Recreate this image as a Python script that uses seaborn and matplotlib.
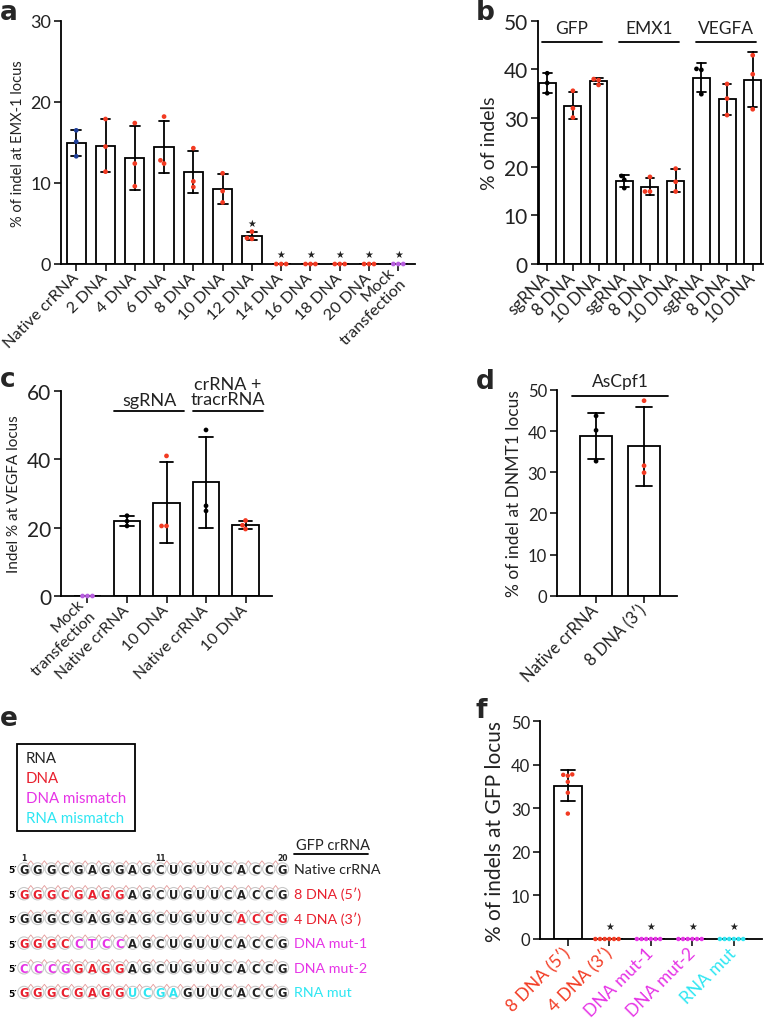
import numpy as np
import pandas as pd
import seaborn as sns
import matplotlib.pyplot as plt
from matplotlib.patches import Rectangle, Circle

sns.set_theme(style='ticks')
plt.rcParams['font.family'] = ['Lato', 'DejaVu Sans']

RED = '#f23a22'
BLUE = '#1f3f99'
PURPLE = '#b85ee0'
MAG = '#e634e6'
CYAN = '#2ee6f2'
SEQRED = '#e8202e'
TXT = '#222222'

# ---- data ----
# a: EMX-1, three replicates per condition
a_labels = ['Native crRNA', '2 DNA', '4 DNA', '6 DNA', '8 DNA', '10 DNA', '12 DNA',
            '14 DNA', '16 DNA', '18 DNA', '20 DNA', 'Mock\ntransfection']
a_values = [[16.5, 15.1, 13.3], [17.9, 14.5, 11.4], [17.4, 12.4, 9.6], [18.2, 12.8, 12.4],
            [14.3, 10.2, 9.5], [11.2, 9.0, 7.6], [4.0, 3.2, 3.1], [0, 0, 0], [0, 0, 0],
            [0, 0, 0], [0, 0, 0], [0, 0, 0]]
a_stars = ['12 DNA', '14 DNA', '16 DNA', '18 DNA', '20 DNA', 'Mock\ntransfection']
a_star_y = [5.1, 1.2, 1.2, 1.2, 1.2, 1.2]

# b: GFP / EMX1 / VEGFA
b_groups = ['GFP', 'EMX1', 'VEGFA']
b_labels = ['sgRNA', '8 DNA', '10 DNA']
b_values = [[39.2, 37.2, 35.1], [35.6, 32.0, 30.1], [38.0, 37.8, 36.8],
            [18.1, 17.3, 15.6], [17.9, 14.9, 14.9], [19.6, 16.9, 14.9],
            [40.1, 39.9, 34.9], [37.0, 34.0, 30.6], [42.9, 39.0, 31.8]]

# c: VEGFA
c_labels = ['Mock\ntransfection', 'Native crRNA', '10 DNA', 'Native crRNA ', '10 DNA ']
c_values = [[0, 0, 0], [23.5, 21.9, 20.5], [41.0, 20.5, 20.5],
            [48.6, 26.4, 24.9], [22.1, 20.7, 19.6]]
c_groups = ['sgRNA', 'crRNA +\ntracrRNA']

# d: DNMT1
d_labels = ['Native crRNA', '8 DNA (3′)']
d_values = [[43.7, 40.2, 32.7], [47.4, 31.6, 29.9]]

# f: GFP, six replicates
f_labels = ['8 DNA (5′)', '4 DNA (3′)', 'DNA mut-1', 'DNA mut-2', 'RNA mut']
f_values = [[37.7, 37.5, 37.8, 36.1, 33.6, 28.8], [0] * 6, [0] * 6, [0] * 6, [0] * 6]
f_star_y = [None, 2.9, 2.9, 2.9, 2.9]

# e: crRNA sequences (R=RNA, D=DNA, M=DNA mismatch, N=RNA mismatch)
e_names = ['Native crRNA', '8 DNA (5′)', '4 DNA (3′)', 'DNA mut-1', 'DNA mut-2', 'RNA mut']
e_seqs = ['GGGCGAGGAGCUGUUCACCG', 'GGGCGAGGAGCUGUUCACCG', 'GGGCGAGGAGCUGUUCACCG',
          'GGGCCTCCAGCUGUUCACCG', 'CCCGGAGGAGCUGUUCACCG', 'GGGCGAGGUCGAGUUCACCG']
e_types = ['RRRRRRRRRRRRRRRRRRRR', 'DDDDDDDDRRRRRRRRRRRR', 'RRRRRRRRRRRRRRRRDDDD',
           'DDDDMMMMRRRRRRRRRRRR', 'MMMMDDDDRRRRRRRRRRRR', 'DDDDDDDDNNNNRRRRRRRR']
e_legend = ['RNA', 'DNA', 'DNA mismatch', 'RNA mismatch']
type_col = {'R': TXT, 'D': SEQRED, 'M': MAG, 'N': CYAN}
name_col = [TXT, SEQRED, SEQRED, MAG, MAG, CYAN]


def long(labels, values):
    rows = [(l, v) for l, vs in zip(labels, values) for v in vs]
    return pd.DataFrame(rows, columns=['cond', 'val'])


def bars(ax, labels, values, colors, dot=3.4):
    df = long(labels, values)
    sns.barplot(data=df, x='cond', y='val', order=labels, color='white', saturation=1,
                edgecolor='black', linewidth=1.3, width=0.66, errorbar='sd', capsize=0.34,
                err_kws={'color': 'black', 'linewidth': 1.3}, ax=ax)
    sns.swarmplot(data=df, x='cond', y='val', order=labels, hue='cond', hue_order=labels,
                  palette=dict(zip(labels, colors)), size=dot, legend=False, ax=ax,
                  clip_on=False, zorder=5, linewidth=0)


def rot(ax):
    plt.setp(ax.get_xticklabels(), rotation=45, ha='right', va='center',
             rotation_mode='anchor', ma='right')


def style(ax, ylim, yticks, ylabel, ysize, lsize, xsize):
    sns.despine(ax=ax)
    ax.set_ylim(ylim)
    ax.set_yticks(yticks)
    ax.set_xlabel('')
    ax.set_ylabel(ylabel, fontsize=lsize, color=TXT, labelpad=4)
    for s in ax.spines.values():
        s.set_linewidth(1.3)
        s.set_color('black')
    ax.tick_params(axis='y', labelsize=ysize, length=5, width=1.3, labelcolor=TXT, pad=2)
    ax.tick_params(axis='x', labelsize=xsize, length=5, width=1.3, labelcolor=TXT, pad=3)
    rot(ax)


fig = plt.figure(figsize=(7.67, 10.2), dpi=100)
W, H = 767, 1020


def px_axes(x0, y0, x1, y1):
    return fig.add_axes([x0 / W, 1 - y1 / H, (x1 - x0) / W, (y1 - y0) / H])


# ---- panel a ----
ax = px_axes(61, 22, 415, 265)
bars(ax, a_labels, a_values, [BLUE] + [RED] * 10 + [PURPLE])
style(ax, (0, 30), [0, 10, 20, 30], '% of indel at EMX-1 locus', 13, 10.5, 11.8)
ax.set_xlim(-0.52, 11.57)
for lab, yy in zip(a_stars, a_star_y):
    ax.text(a_labels.index(lab), yy, '★', ha='center', va='center', fontsize=7,
            color=TXT, family='DejaVu Sans')

# ---- panel b ----
ax = px_axes(537.7, 21.7, 763, 265)
b_cats = [f'{g}|{l}' for g in b_groups for l in b_labels]
b_cols = ['black', RED, RED] * 3
bars(ax, b_cats, b_values, b_cols)
style(ax, (0, 50), [0, 10, 20, 30, 40, 50], '% of indels', 15, 14, 12.3)
ax.set_xticks(range(len(b_cats)), b_labels * 3)
rot(ax)
ax.set_xlim(-0.37, 8.4)
for i, g in enumerate(b_groups):
    ax.plot([3 * i - 0.22, 3 * i + 2.12], [45.7, 45.7], color='black', lw=1.3, clip_on=False)
    ax.text(3 * i + 0.95, 48.5, g, ha='center', va='center', fontsize=12.5, color=TXT)

# ---- panel c ----
ax = px_axes(61, 392, 272, 597)
bars(ax, c_labels, c_values, [PURPLE, 'black', RED, 'black', RED])
style(ax, (0, 60), [0, 20, 40, 60], 'Indel % at VEGFA locus', 15, 11, 11.5)
ax.set_xticks(range(len(c_labels)), [l.strip() for l in c_labels])
rot(ax)
ax.set_xlim(-0.67, 4.67)
for i, g in enumerate(c_groups):
    ax.plot([2 * i + 0.67, 2 * i + 2.45], [54.2, 54.2], color='black', lw=1.3, clip_on=False)
ax.text(1.56, 57.4, c_groups[0], ha='center', va='center', fontsize=13, color=TXT)
ax.text(3.56, 55.2, c_groups[1], ha='center', va='bottom', fontsize=13, color=TXT,
        linespacing=0.95)

# ---- panel d ----
ax = px_axes(556.7, 391, 676.7, 596.7)
bars(ax, d_labels, d_values, ['black', RED])
style(ax, (0, 50), [0, 10, 20, 30, 40, 50], '% of indel at DNMT1 locus', 12, 12.5, 12)
ax.set_xlim(-0.82, 1.68)
ax.plot([-0.5, 1.5], [48.6, 48.6], color='black', lw=1.3, clip_on=False)
ax.text(0.5, 52.3, 'AsCpf1', ha='center', va='center', fontsize=12.5, color=TXT)

# ---- panel f ----
ax = px_axes(540, 722.3, 761.7, 940)
f_cols = [RED, RED, MAG, MAG, CYAN]
bars(ax, f_labels, f_values, f_cols, dot=3.2)
style(ax, (0, 50), [0, 10, 20, 30, 40, 50], '% of indels at GFP locus', 12, 15, 12.5)
ax.set_xlim(-0.67, 4.67)
for t, c in zip(ax.get_xticklabels(), f_cols):
    t.set_color(c)
for i, yy in enumerate(f_star_y):
    if yy is not None:
        ax.text(i, yy, '★', ha='center', va='center', fontsize=7, color=TXT,
                family='DejaVu Sans')

# ---- panel e: sequence diagram (pixel coordinates) ----
ax = px_axes(0, 690, 390, 1020)
ax.set_xlim(0, 390)
ax.set_ylim(1020, 690)
ax.axis('off')
ax.add_patch(Rectangle((17, 745), 118, 87, fill=False, ec='black', lw=1.3))
for k, (lab, c) in enumerate(zip(e_legend, [TXT, SEQRED, MAG, CYAN])):
    ax.text(26, 759 + 20 * k, lab, color=c, fontsize=10.8, va='center')
ax.text(296, 846, 'GFP crRNA', fontsize=10.5, va='center', color=TXT)
ax.plot([294, 368], [855, 855], color='black', lw=1.3)

x0, dx, y0, dy = 24, 13.6, 870, 24.7
for r, (name, seq, typ) in enumerate(zip(e_names, e_seqs, e_types)):
    yy = y0 + r * dy
    ax.text(x0 - 11, yy + 1, '5′', fontsize=6.5, fontweight='bold', ha='center',
            va='center', color='black', family='DejaVu Sans')
    for i, (ch, t) in enumerate(zip(seq, typ)):
        xx = x0 + i * dx
        ax.add_patch(Circle((xx, yy), 6.2, fill=False, ec='#c8c8c8', lw=0.8))
        if i < len(seq) - 1:
            ax.plot([xx + 4.2, xx + dx / 2, xx + dx - 4.2], [yy - 4.8, yy - 8.2, yy - 4.8],
                    color='#e59a9a', lw=0.6)
        ax.text(xx, yy + 0.5, ch, fontsize=8.3, fontweight='bold', ha='center', va='center',
                color=type_col[t], family='DejaVu Sans')
    ax.text(294, yy, name, fontsize=10.3, va='center', color=name_col[r])
for pos in [1, 11, 20]:
    ax.text(x0 + (pos - 1) * dx, y0 - 6.8, str(pos), fontsize=5.5, fontweight='bold',
            ha='center', va='bottom', family='DejaVu Sans')

# panel letters
for lab, x, y in [('a', 0, 20), ('b', 476, 20), ('c', 0, 387), ('d', 476, 389),
                  ('e', 0, 726), ('f', 476, 718)]:
    fig.text(x / W, 1 - y / H, lab, fontsize=19, fontweight='bold', va='baseline',
             family='DejaVu Sans')

fig.savefig('out.png', dpi=100)
